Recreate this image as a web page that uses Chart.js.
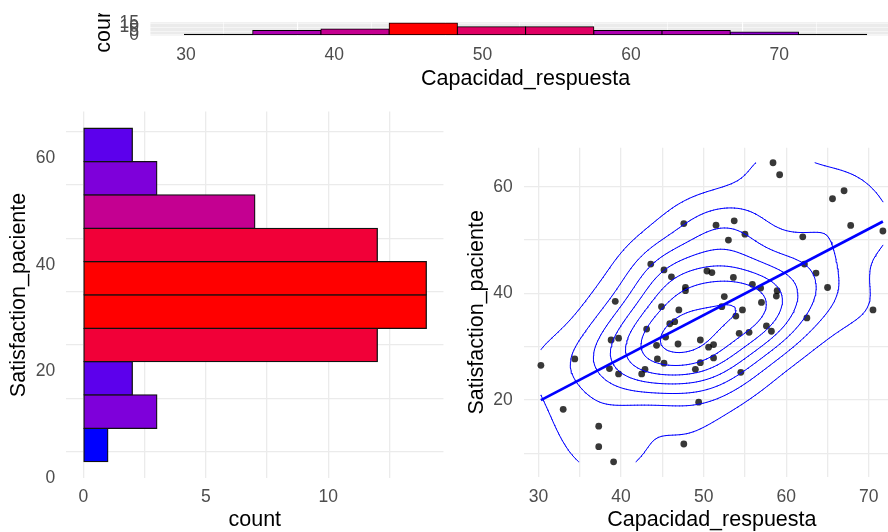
<!DOCTYPE html>
<html><head><meta charset="utf-8">
<script src="https://cdn.jsdelivr.net/npm/chart.js@4"></script>
<style>
html,body{margin:0;padding:0;background:#fff;overflow:hidden;width:888px;height:532px;position:relative;}
canvas{position:absolute;left:0;top:0;}
#cTop{clip-path:inset(13px 0 0 0);}
</style></head><body>
<canvas id="cTop" width="910" height="545"></canvas>
<canvas id="cLeft" width="910" height="545"></canvas>
<canvas id="cRight" width="910" height="545"></canvas>
<script>
// ---------------- DATA ----------------
const capRespuesta = [30.3,33.0,34.4,37.3,37.3,39.1,39.3,38.8,39.7,38.6,
  39.7,43.6,45.2,46.1,44.9,43.1,44.3,45.4,44.4,45.2,
  42.9,42.5,45.9,46.5,47.0,46.9,47.6,47.8,47.8,47.6,
  49.6,50.6,51.2,51.2,49.6,49.0,49.4,50.4,51.0,51.5,
  53.0,53.7,55.0,53.6,52.5,52.2,53.9,54.7,54.3,55.5,
  54.5,55.9,56.9,57.0,57.6,58.2,58.8,58.9,58.4,59.2,
  62.0,62.2,63.6,65.0,62.5,65.6,67.0,67.8,70.5,71.7];
const satPaciente = [26.5,18.25,27.7,15.1,11.25,8.4,38.5,31.25,31.6,25.9,
  24.9,45.5,44.4,43.1,37.5,33.3,30.25,31.8,27.7,26.9,
  25.75,24.9,34.3,34.7,36.9,30.5,53.1,41.1,40.5,11.75,
  31.25,29.9,30.4,27.9,27.0,25.75,19.6,44.2,43.9,52.8,
  50.0,53.6,51.1,43.0,39.4,37.5,35.75,36.9,32.5,32.7,
  25.2,41.7,41.0,38.3,33.9,32.9,39.5,40.5,64.5,62.25,
  50.6,45.5,43.8,41.1,35.4,57.75,59.25,52.75,36.9,51.7];

// top histogram (Capacidad_respuesta)
const capBinStart = 29.9, capBinWidth = 4.6;
const capCounts = [1,6,8,16,11,11,6,6,4,1];
// left histogram (Satisfaction_paciente)
const satBinStart = 3.125, satBinWidth = 6.25;
const satCounts = [1,3,2,12,14,14,12,7,3,2];

// tick labels
const capMajor = [30,40,50,60,70], capMinor = [35,45,55,65,75];
const topCountMajor = [0,5,10,15];
const leftCountMajor = [0,5,10], leftCountMinor = [2.5,7.5,12.5];
const leftSatMajor = [0,20,40,60], satMinor = [10,30,50];
const rightSatMajor = [20,40,60];
const rightCapMajor = [30,40,50,60,70], rightCapMinor = [35,45,55,65];

// ---------------- helpers ----------------
const FONT = "'Liberation Sans', Arial, Helvetica, sans-serif";
const TICKF = {family: FONT, size: 17.5};
const TITLEF = {family: FONT, size: 21.5, lineHeight: 1.2};
const TICKC = '#4D4D4D';

function lin(c){c/=255;return c<=0.04045?c/12.92:Math.pow((c+0.055)/1.055,2.4);}
function gam(c){c=c<=0.0031308?12.92*c:1.055*Math.pow(c,1/2.4)-0.055;return Math.round(Math.max(0,Math.min(1,c))*255);}
function toLab(rgb){
  const R=lin(rgb[0]),G=lin(rgb[1]),B=lin(rgb[2]);
  const X=(0.4124*R+0.3576*G+0.1805*B)/0.95047,Y=0.2126*R+0.7152*G+0.0722*B,Z=(0.0193*R+0.1192*G+0.9505*B)/1.08883;
  const f=t=>t>0.008856?Math.cbrt(t):(7.787*t+16/116);
  const fx=f(X),fy=f(Y),fz=f(Z);
  return [116*fy-16,500*(fx-fy),200*(fy-fz)];
}
function fromLab(L,a,b){
  const fy=(L+16)/116,fx=fy+a/500,fz=fy-b/200;
  const fi=t=>t*t*t>0.008856?t*t*t:(t-16/116)/7.787;
  const X=fi(fx)*0.95047,Y=fi(fy),Z=fi(fz)*1.08883;
  const R=3.2406*X-1.5372*Y-0.4986*Z,G=-0.9689*X+1.8758*Y+0.0415*Z,B=0.0557*X-0.2040*Y+1.0570*Z;
  return 'rgb('+gam(R)+','+gam(G)+','+gam(B)+')';
}
const LAB_LOW = toLab([0,0,255]), LAB_HIGH = toLab([255,0,0]);
function gradColor(v,mn,mx){
  const t=(v-mn)/(mx-mn);
  return fromLab(LAB_LOW[0]+t*(LAB_HIGH[0]-LAB_LOW[0]),LAB_LOW[1]+t*(LAB_HIGH[1]-LAB_LOW[1]),LAB_LOW[2]+t*(LAB_HIGH[2]-LAB_LOW[2]));
}
function setTicks(arr){return s=>{s.ticks=arr.map(v=>({value:v}));};}
function labelOnly(majors){return v=>majors.includes(v)?String(v):'';}

function mean(a){return a.reduce((s,v)=>s+v,0)/a.length;}
function sdev(a){const m=mean(a);return Math.sqrt(a.reduce((s,v)=>s+(v-m)*(v-m),0)/(a.length-1));}
function q7(a,p){const s=[...a].sort((x,y)=>x-y);const h=(s.length-1)*p;const lo=Math.floor(h);const hi=Math.min(lo+1,s.length-1);return s[lo]+(h-lo)*(s[hi]-s[lo]);}
function bwNrd(a){const r=(q7(a,0.75)-q7(a,0.25))/1.34;return 4*1.06*Math.min(sdev(a),r)*Math.pow(a.length,-0.2);}
function pretty(lo,hi,n){
  const dx=hi-lo;let cell=dx/n;const h=1.5,h5=0.5+1.5*h;
  const base=Math.pow(10,Math.floor(Math.log10(cell)));let unit=base,ns;
  if((ns=2*base)-cell<h*(cell-unit)){unit=ns;if((ns=5*base)-cell<h5*(cell-unit)){unit=ns;if((ns=10*base)-cell<h*(cell-unit))unit=ns;}}
  let a=Math.floor(lo/unit+1e-7),b=Math.ceil(hi/unit-1e-7);
  const out=[];for(let k=a;k<=b;k++)out.push(k*unit);return out;
}

// ---------------- TOP HISTOGRAM ----------------
const capMin = Math.min(...capCounts), capMax = Math.max(...capCounts);
const topPlugin = {
  id:'topDecor',
  beforeDraw(chart){
    const a=chart.chartArea,ctx=chart.ctx;
    ctx.save();ctx.fillStyle='#EBEBEB';ctx.fillRect(a.left,a.top,a.right-a.left,a.bottom-a.top);ctx.restore();
  },
  afterDraw(chart){
    const a=chart.chartArea,ctx=chart.ctx;
    ctx.save();
    ctx.translate(a.left-46,(a.top+a.bottom)/2-2.5);
    ctx.rotate(-Math.PI/2);
    ctx.font='21.5px '+FONT;ctx.fillStyle='#000';ctx.textAlign='center';ctx.textBaseline='middle';
    ctx.fillText('count',0,0);
    ctx.restore();
  }
};
new Chart(document.getElementById('cTop'),{
  type:'bar',
  data:{datasets:[{
    data:capCounts.map((c,i)=>({x:capBinStart+(i+0.5)*capBinWidth,y:c})),
    // very short bars are hidden under their outline (as in the original rendering)
    backgroundColor:capCounts.map(c=>c<=1?'#000000':gradColor(c,capMin,capMax)),
    borderColor:'#000',borderSkipped:false,borderWidth:1,inflateAmount:0.5,
    barPercentage:1,categoryPercentage:1
  }]},
  options:{
    responsive:false,animation:false,devicePixelRatio:1,events:[],
    layout:{padding:{left:75,top:22.3,right:9.2,bottom:451.5}},
    plugins:{legend:{display:false},tooltip:{enabled:false}},
    scales:{
      x:{type:'linear',offset:false,min:capBinStart-capBinWidth/2,max:capBinStart+10.5*capBinWidth,
        afterBuildTicks:setTicks(capMajor.concat(capMinor).sort((a,b)=>a-b)),
        afterFit:s=>{s.height=58;},
        border:{display:false},
        grid:{color:'#FFFFFF',lineWidth:c=>(c.tick&&capMajor.includes(c.tick.value))?1.1:0.6,drawTicks:false},
        ticks:{callback:labelOnly(capMajor),autoSkip:false,maxRotation:0,padding:9.5,color:TICKC,font:TICKF},
        title:{display:true,text:'Capacidad_respuesta',color:'#000',font:TITLEF,padding:{top:0,bottom:1.1}}
      },
      y:{type:'linear',min:-0.05*capMax,max:1.05*capMax,
        afterBuildTicks:setTicks(topCountMajor),
        afterFit:s=>{s.width=75.4;},
        border:{display:false},
        grid:{color:'#FFFFFF',lineWidth:0.5,drawTicks:false},
        ticks:{autoSkip:false,padding:11.4,color:TICKC,font:TICKF}
      }
    }
  },
  plugins:[topPlugin]
});

// ---------------- LEFT HISTOGRAM ----------------
const satMin = Math.min(...satCounts), satMax = Math.max(...satCounts);
new Chart(document.getElementById('cLeft'),{
  type:'bar',
  data:{datasets:[{
    data:satCounts.map((c,i)=>({x:c,y:satBinStart+(i+0.5)*satBinWidth})),
    backgroundColor:satCounts.map(c=>gradColor(c,satMin,satMax)),
    borderColor:'#111111',borderWidth:1.3,borderSkipped:false,inflateAmount:0.65,
    barPercentage:1,categoryPercentage:1
  }]},
  options:{
    indexAxis:'y',
    responsive:false,animation:false,devicePixelRatio:1,events:[],
    layout:{padding:{left:0,top:111.6,right:466.55,bottom:11.7}},
    plugins:{legend:{display:false},tooltip:{enabled:false}},
    scales:{
      x:{type:'linear',min:-0.05*satMax,max:1.05*satMax,
        afterBuildTicks:setTicks(leftCountMajor.concat(leftCountMinor).sort((a,b)=>a-b)),
        afterFit:s=>{s.height=55;},
        border:{display:false},
        grid:{color:'#EBEBEB',lineWidth:1.3,drawTicks:false},
        ticks:{callback:labelOnly(leftCountMajor),autoSkip:false,maxRotation:0,padding:7.9,color:TICKC,font:TICKF},
        title:{display:true,text:'count',color:'#000',font:TITLEF,padding:{top:0,bottom:0}}
      },
      y:{type:'linear',offset:false,min:satBinStart-satBinWidth/2,max:satBinStart+10.5*satBinWidth,
        afterBuildTicks:setTicks(leftSatMajor.concat(satMinor).sort((a,b)=>a-b)),
        afterFit:s=>{s.width=66.15;},
        border:{display:false},
        grid:{color:'#EBEBEB',lineWidth:1.3,drawTicks:false},
        ticks:{callback:labelOnly(leftSatMajor),autoSkip:false,padding:11,color:TICKC,font:TICKF},
        title:{display:true,text:'Satisfaction_paciente',color:'#000',font:TITLEF,padding:{top:6.1,bottom:0}}
      }
    }
  }
});

// ---------------- SCATTER + DENSITY + LM ----------------
const xMinD=Math.min(...capRespuesta),xMaxD=Math.max(...capRespuesta);
const yMinD=Math.min(...satPaciente),yMaxD=Math.max(...satPaciente);
// linear model
const mx=mean(capRespuesta),my=mean(satPaciente);
let sxy=0,sxx=0;capRespuesta.forEach((x,i)=>{sxy+=(x-mx)*(satPaciente[i]-my);sxx+=(x-mx)*(x-mx);});
const slope=sxy/sxx,icpt=my-slope*mx;
const lmLine=[{x:xMinD,y:icpt+slope*xMinD},{x:xMaxD,y:icpt+slope*xMaxD}];
// kde2d (MASS) on 100x100 grid over data range
const NG=100;
const hx=bwNrd(capRespuesta)/4,hy=bwNrd(satPaciente)/4;
const gx=[],gy=[];
for(let i=0;i<NG;i++){gx.push(xMinD+i*(xMaxD-xMinD)/(NG-1));gy.push(yMinD+i*(yMaxD-yMinD)/(NG-1));}
const phi=t=>Math.exp(-0.5*t*t)/Math.sqrt(2*Math.PI);
const ax=gx.map(g=>capRespuesta.map(x=>phi((g-x)/hx)));
const ay=gy.map(g=>satPaciente.map(y=>phi((g-y)/hy)));
const Z=[];let zmin=Infinity,zmax=-Infinity;
for(let i=0;i<NG;i++){Z.push([]);for(let j=0;j<NG;j++){let s=0;for(let k=0;k<capRespuesta.length;k++)s+=ax[i][k]*ay[j][k];s/=capRespuesta.length*hx*hy;Z[i].push(s);if(s<zmin)zmin=s;if(s>zmax)zmax=s;}}
const levels=pretty(zmin,zmax,10);
const contourPts=[];
function pushSeg(p,q){contourPts.push(p,q,{x:null,y:null});}
levels.forEach(L=>{
  for(let i=0;i<NG-1;i++)for(let j=0;j<NG-1;j++){
    const a=Z[i][j],b=Z[i+1][j],c=Z[i+1][j+1],d=Z[i][j+1];
    const cs=(a>L?1:0)|(b>L?2:0)|(c>L?4:0)|(d>L?8:0);
    if(cs===0||cs===15)continue;
    const x0=gx[i],x1=gx[i+1],y0=gy[j],y1=gy[j+1];
    const B=()=>({x:x0+(L-a)/(b-a)*(x1-x0),y:y0});
    const R=()=>({x:x1,y:y0+(L-b)/(c-b)*(y1-y0)});
    const T=()=>({x:x0+(L-d)/(c-d)*(x1-x0),y:y1});
    const Lf=()=>({x:x0,y:y0+(L-a)/(d-a)*(y1-y0)});
    const ctr=(a+b+c+d)/4;
    switch(cs){
      case 1:case 14:pushSeg(Lf(),B());break;
      case 2:case 13:pushSeg(B(),R());break;
      case 3:case 12:pushSeg(Lf(),R());break;
      case 4:case 11:pushSeg(R(),T());break;
      case 6:case 9:pushSeg(B(),T());break;
      case 7:case 8:pushSeg(Lf(),T());break;
      case 5:if(ctr>L){pushSeg(B(),R());pushSeg(Lf(),T());}else{pushSeg(Lf(),B());pushSeg(R(),T());}break;
      case 10:if(ctr>L){pushSeg(Lf(),B());pushSeg(R(),T());}else{pushSeg(B(),R());pushSeg(Lf(),T());}break;
    }
  }
});
const xPad=0.05*(xMaxD-xMinD),yPad=0.05*(yMaxD-yMinD);
new Chart(document.getElementById('cRight'),{
  type:'scatter',
  data:{datasets:[
    {data:lmLine,showLine:true,borderColor:'#0000FF',borderWidth:2.7,pointRadius:0,fill:false,tension:0},
    {data:contourPts,showLine:true,borderColor:'#0000FF',borderWidth:1,pointRadius:0,fill:false,tension:0,spanGaps:false,borderCapStyle:'round',borderJoinStyle:'round'},
    {data:capRespuesta.map((x,i)=>({x:x,y:satPaciente[i]})),pointRadius:3.4,pointBackgroundColor:'rgba(0,0,0,0.78)',pointBorderWidth:0,showLine:false}
  ]},
  options:{
    responsive:false,animation:false,devicePixelRatio:1,events:[],
    layout:{padding:{left:463.8,top:147.8,right:10,bottom:11.2}},
    plugins:{legend:{display:false},tooltip:{enabled:false}},
    scales:{
      x:{type:'linear',min:xMinD-xPad,max:xMaxD+xPad,
        afterBuildTicks:setTicks(rightCapMajor.concat(rightCapMinor).sort((a,b)=>a-b)),
        afterFit:s=>{s.height=57;},
        border:{display:false},
        grid:{color:'#EBEBEB',lineWidth:1.3,drawTicks:false},
        ticks:{callback:labelOnly(rightCapMajor),autoSkip:false,maxRotation:0,padding:9.4,color:TICKC,font:TICKF},
        title:{display:true,text:'Capacidad_respuesta',color:'#000',font:TITLEF,padding:{top:0,bottom:0.4}}
      },
      y:{type:'linear',min:yMinD-yPad,max:yMaxD+yPad,
        afterBuildTicks:setTicks(rightSatMajor.concat(satMinor).sort((a,b)=>a-b)),
        afterFit:s=>{s.width=60;},
        border:{display:false},
        grid:{color:'#EBEBEB',lineWidth:1.3,drawTicks:false},
        ticks:{callback:labelOnly(rightSatMajor),autoSkip:false,padding:11,color:TICKC,font:TICKF},
        title:{display:true,text:'Satisfaction_paciente',color:'#000',font:TITLEF,padding:{top:0,bottom:0}}
      }
    }
  }
});
</script>
</body></html>
